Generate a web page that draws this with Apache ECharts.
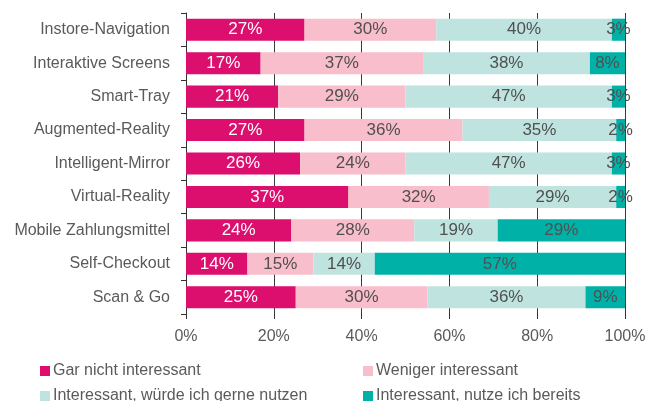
<!DOCTYPE html>
<html>
<head>
<meta charset="utf-8">
<script src="https://cdn.jsdelivr.net/npm/echarts@6/dist/echarts.min.js"></script>
<style>
html,body{margin:0;padding:0;background:#fff;}
#chart{width:649px;height:401px;}
</style>
</head>
<body>
<div id="chart"></div>
<script>
// Kategorien von oben nach unten
var categories = ['Instore-Navigation','Interaktive Screens','Smart-Tray','Augmented-Reality','Intelligent-Mirror','Virtual-Reality','Mobile Zahlungsmittel','Self-Checkout','Scan & Go'];
var seriesNames = ['Gar nicht interessant','Weniger interessant','Interessant, würde ich gerne nutzen','Interessant, nutze ich bereits'];
var garNicht   = [27,17,21,27,26,37,24,14,25];
var weniger    = [30,37,29,36,24,32,28,15,30];
var gerne      = [40,38,47,35,47,29,19,14,36];
var bereits    = [3,8,3,2,3,2,29,57,9];

var colors = ['#DC0E6E','#F8BECB','#BFE4E0','#00B1A8'];
var font = 'Liberation Sans';

var chart = echarts.init(document.getElementById('chart'));
var data = [garNicht, weniger, gerne, bereits];
var series = [];
for (var i = 0; i < data.length; i++) {
	series.push({
		name: seriesNames[i],
		type: 'bar',
		stack: 'total',
		barCategoryGap: '34%',
		data: data[i],
		itemStyle: { color: colors[i] },
		label: {
			show: true,
			position: 'inside',
			formatter: '{c}%',
			fontFamily: font,
			fontSize: 17,
			color: i == 0 ? '#ffffff' : '#505050'
		}
	});
}

// Legende: 2 Spalten, 2 Zeilen
var legendPos = [[35,358],[358,358],[35,383],[358,383]];
var legends = [];
for (var j = 0; j < seriesNames.length; j++) {
	legends.push({
		left: legendPos[j][0], top: legendPos[j][1],
		itemWidth: 10, itemHeight: 10,
		icon: 'rect',
		textStyle: { fontFamily: font, fontSize: 16, color: '#5a5a5a', padding: [0,0,0,-2] },
		data: [seriesNames[j]]
	});
}

var option = {
	animation: false,
	color: colors,
	grid: { left: 186, right: 24, top: 13, bottom: 87 },
	legend: legends,
	xAxis: {
		type: 'value',
		min: 0, max: 100, interval: 20,
		axisLine: { show: false },
		axisTick: { show: true, length: 5, lineStyle: { color: '#333' } },
		splitLine: { show: true, lineStyle: { color: '#3a3a3a', width: 1 } },
		axisLabel: {
			formatter: '{value}%',
			fontFamily: font, fontSize: 16, color: '#5a5a5a', margin: 15
		}
	},
	yAxis: {
		type: 'category',
		inverse: true,
		data: categories,
		axisLine: { show: true, lineStyle: { color: '#333' } },
		axisTick: { show: true, length: 5, lineStyle: { color: '#333' } },
		axisLabel: { fontFamily: font, fontSize: 16, color: '#5a5a5a', margin: 16 }
	},
	series: series
};
chart.setOption(option);
</script>
</body>
</html>
